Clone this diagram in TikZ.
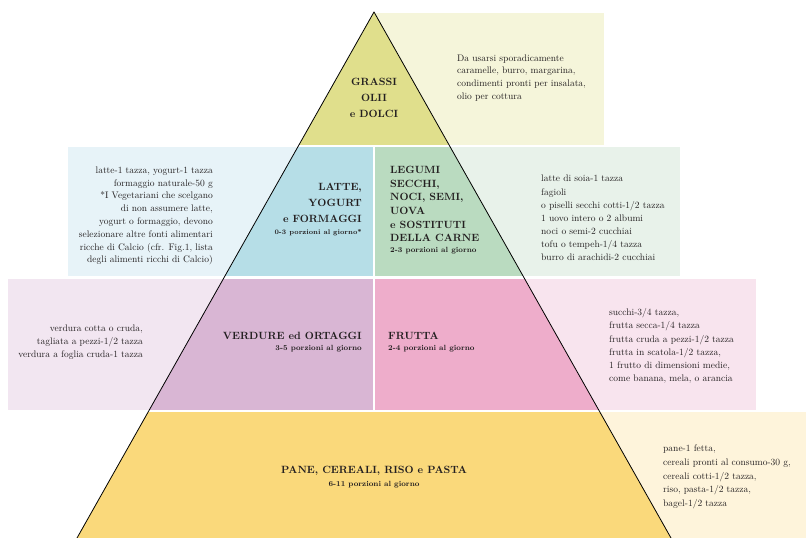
\documentclass[tikz,border=0pt]{standalone}
\definecolor{grassiD}{HTML}{E0DF8C}
\definecolor{grassiL}{HTML}{F5F5DA}
\definecolor{latteD}{HTML}{B6DEE7}
\definecolor{latteL}{HTML}{E7F3F8}
\definecolor{legumiD}{HTML}{BADBC0}
\definecolor{legumiL}{HTML}{E8F2EA}
\definecolor{verdureD}{HTML}{D9B6D4}
\definecolor{verdureL}{HTML}{F2E6F1}
\definecolor{fruttaD}{HTML}{EEADCB}
\definecolor{fruttaL}{HTML}{F8E4EE}
\definecolor{paneD}{HTML}{FAD97B}
\definecolor{paneL}{HTML}{FEF4DB}
\definecolor{ink}{HTML}{231F20}
\tikzset{
  head/.style={font=\fontsize{10.5}{16}\selectfont\bfseries, inner sep=0pt, text=ink},
  sub/.style={font=\fontsize{7.5}{9}\selectfont\bfseries, inner sep=0pt, text=ink},
  txt/.style={font=\fontsize{9.5}{12.8}\selectfont, inner sep=0pt, text=ink},
}
\begin{document}
\begin{tikzpicture}[x=1pt, y=-1pt, line join=round, line cap=round]
  \useasboundingbox (0,0) rectangle (806,538);
  % light boxes behind the pyramid
  \fill[grassiL] (374,13) rectangle (604,145);
  \fill[latteL] (68,147) rectangle (373,276);
  \fill[legumiL] (375,147) rectangle (680,276);
  \fill[verdureL] (8,279) rectangle (373,410);
  \fill[fruttaL] (375,279) rectangle (756,410);
  \fill[paneL] (375,412) rectangle (806,538);
  % pyramid tiers
  \begin{scope}
    \clip (374,12) -- (77,538) -- (671,538) -- cycle;
    \fill[grassiD] (0,0) rectangle (806,145);
    \fill[latteD] (0,147) rectangle (373,276);
    \fill[legumiD] (375,147) rectangle (806,276);
    \fill[verdureD] (0,279) rectangle (373,410);
    \fill[fruttaD] (375,279) rectangle (806,410);
    \fill[paneD] (0,412) rectangle (806,538);
  \end{scope}
  \draw[line width=0.8pt] (374,12) -- (77,538);
  \draw[line width=0.8pt] (374,12) -- (671,538);
  % tier 1
  \node[head, align=center] (grassi) at (374,98) {GRASSI\\OLII\\e DOLCI};
  \node[txt, align=left, anchor=west] (grassitxt) at (457,78) {Da usarsi sporadicamente\\caramelle, burro, margarina,\\condimenti pronti per insalata,\\olio per cottura};
  % tier 2
  \node[head, align=right, anchor=east] (latte) at (362,203) {LATTE,\\YOGURT\\e FORMAGGI};
  \node[sub, anchor=east, font=\fontsize{6.8}{8}\selectfont\bfseries] (lattesub) at (362,233) {0-3 porzioni al giorno*};
  \node[txt, align=right, anchor=east] (lattetxt) at (213,216) {latte-1 tazza, yogurt-1 tazza\\formaggio naturale-50 g\\*I Vegetariani che scelgano\\di non assumere latte,\\yogurt o formaggio, devono\\selezionare altre fonti alimentari\\ricche di Calcio (cfr. Fig.1, lista\\degli alimenti ricchi di Calcio)};
  \node[head, align=left, anchor=west, font=\fontsize{10.5}{13.6}\selectfont\bfseries] (legumi) at (390,204) {LEGUMI\\SECCHI,\\NOCI, SEMI,\\UOVA\\e SOSTITUTI\\DELLA CARNE};
  \node[sub, anchor=west] (legumisub) at (390,251) {2-3 porzioni al giorno};
  \node[txt, align=left, anchor=west, font=\fontsize{9.5}{13.1}\selectfont] (legumitxt) at (541,218) {latte di soia-1 tazza\\fagioli\\o piselli secchi cotti-1/2 tazza\\1 uovo intero o 2 albumi\\noci o semi-2 cucchiai\\tofu o tempeh-1/4 tazza\\burro di arachidi-2 cucchiai};
  % tier 3
  \node[head, anchor=east] (verdure) at (362,336) {VERDURE ed ORTAGGI};
  \node[sub, anchor=east] (verduresub) at (362,349) {3-5 porzioni al giorno};
  \node[txt, align=right, anchor=east] (verduretxt) at (143,342) {verdura cotta o cruda,\\tagliata a pezzi-1/2 tazza\\verdura a foglia cruda-1 tazza};
  \node[head, anchor=west] (frutta) at (388,336) {FRUTTA};
  \node[sub, anchor=west] (fruttasub) at (388,349) {2-4 porzioni al giorno};
  \node[txt, align=left, anchor=west, font=\fontsize{9.5}{13.2}\selectfont] (fruttatxt) at (609,346) {succhi-3/4 tazza,\\frutta secca-1/4 tazza\\frutta cruda a pezzi-1/2 tazza\\frutta in scatola-1/2 tazza,\\1 frutto di dimensioni medie,\\come banana, mela, o arancia};
  % tier 4
  \node[head] (pane) at (374,471) {PANE, CEREALI, RISO e PASTA};
  \node[sub] (panesub) at (374,485) {6-11 porzioni al giorno};
  \node[txt, align=left, anchor=west, font=\fontsize{9.5}{13.6}\selectfont] (panetxt) at (663,477) {pane-1 fetta,\\cereali pronti al consumo-30 g,\\cereali cotti-1/2 tazza,\\riso, pasta-1/2 tazza,\\bagel-1/2 tazza};
\end{tikzpicture}
\end{document}
